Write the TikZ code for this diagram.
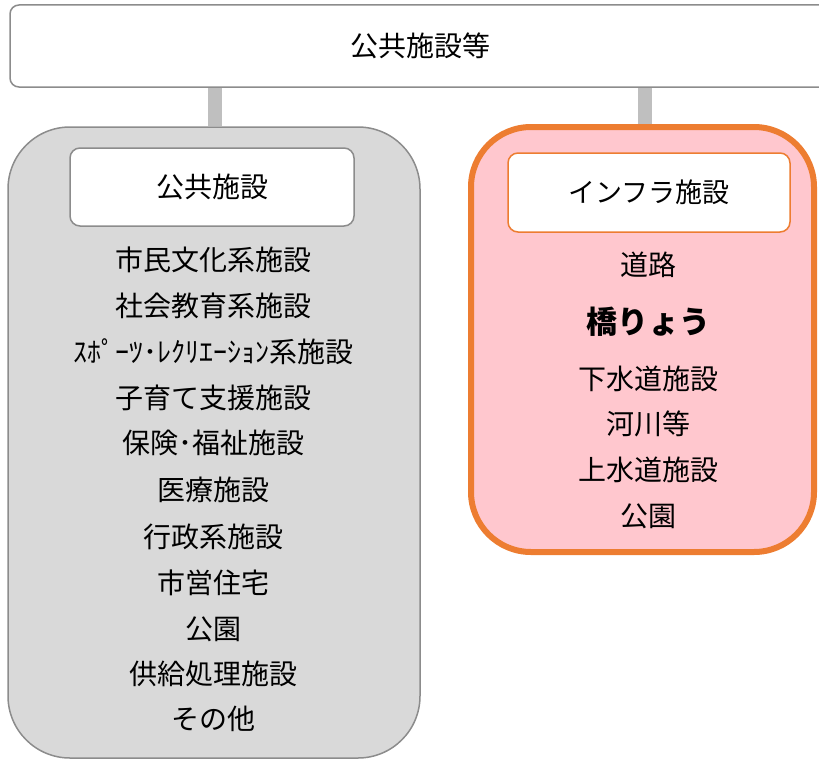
\documentclass[tikz,border=0pt]{standalone}
\usepackage{fontspec}
\setmainfont{Noto Sans CJK JP}
\definecolor{boxgray}{HTML}{D9D9D9}
\definecolor{edgegray}{HTML}{8C8C8C}
\definecolor{linkgray}{HTML}{BFBFBF}
\definecolor{pinkfill}{HTML}{FFC7CE}
\definecolor{orangeedge}{HTML}{ED7D31}
\tikzset{
  topbox/.style={draw=edgegray, line width=1.5pt, fill=white, rounded corners=9pt, inner sep=0pt},
  grouplarge/.style={draw=edgegray, line width=1.5pt, fill=boxgray, rounded corners=62pt, inner sep=0pt},
  groupinfra/.style={draw=orangeedge, line width=6pt, fill=pinkfill, rounded corners=60pt, inner sep=0pt},
  headgray/.style={draw=edgegray, line width=1.5pt, fill=white, rounded corners=10pt, inner sep=0pt, font=\fontsize{28}{32}\selectfont},
  headorange/.style={draw=orangeedge, line width=1.5pt, fill=white, rounded corners=10pt, inner sep=0pt, font=\fontsize{27}{32}\selectfont},
  item/.style={inner sep=0pt, font=\fontsize{28}{32}\selectfont},
  link/.style={draw=linkgray, line width=14pt},
}
\begin{document}
\begin{tikzpicture}[x=1pt,y=-1pt]
\useasboundingbox (0,0) rectangle (819,760);
\clip (0,0) rectangle (819,760);
\node[topbox, minimum width=820pt, minimum height=82pt, font=\fontsize{28}{32}\selectfont] (top) at (420,46) {公共施設等};
\node[grouplarge, minimum width=412pt, minimum height=631pt] (left) at (214,442.5) {};
\node[groupinfra, minimum width=343pt, minimum height=425pt] (right) at (642.5,339.5) {};
\draw[link] (215,87.75) -- (215,126.25);
\draw[link] (645,87.75) -- (645,124);
\node[headgray, minimum width=284pt, minimum height=78pt] (lhead) at (212,187) {公共施設};
\node[headorange, minimum width=282pt, minimum height=79pt] (rhead) at (649,192.5) {インフラ施設};
\node[item] (l1) at (213,260) {市民文化系施設};
\node[item] (l2) at (213,306) {社会教育系施設};
\node[item] (l3) at (213,352) {ｽﾎﾟｰﾂ･ﾚｸﾘｴｰｼｮﾝ系施設};
\node[item] (l4) at (213,398) {子育て支援施設};
\node[item] (l5) at (213,443) {保険･福祉施設};
\node[item] (l6) at (213,490) {医療施設};
\node[item] (l7) at (213,537) {行政系施設};
\node[item] (l8) at (213,583) {市営住宅};
\node[item] (l9) at (213,629) {公園};
\node[item] (l10) at (213,674) {供給処理施設};
\node[item] (l11) at (213,719) {その他};
\node[item] (r1) at (648,265) {道路};
\node[item, font=\fontsize{31}{36}\selectfont\bfseries] (r2) at (648,322) {橋りょう};
\node[item] (r3) at (648,379) {下水道施設};
\node[item] (r4) at (648,424) {河川等};
\node[item] (r5) at (648,470) {上水道施設};
\node[item] (r6) at (648,516) {公園};
\end{tikzpicture}
\end{document}
